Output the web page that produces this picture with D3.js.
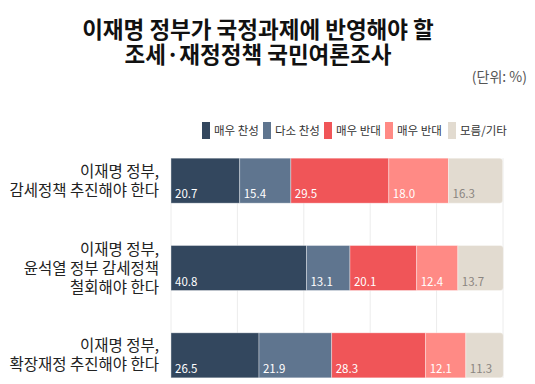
<!DOCTYPE html>
<html>
<head>
<meta charset="utf-8">
<script src="https://cdn.jsdelivr.net/npm/d3@7"></script>
<style>
  body { margin: 0; background: #fff; }
  svg { display: block; font-family: "Noto Sans CJK KR", "Noto Sans", sans-serif; }
</style>
</head>
<body>
<svg id="chart" width="535" height="384"></svg>
<script>
// data
const titleLines = ["이재명 정부가 국정과제에 반영해야 할", "조세·재정정책 국민여론조사"];
const unitLabel = "(단위: %)";
const categories = [
  ["이재명 정부,", "감세정책 추진해야 한다"],
  ["이재명 정부,", "윤석열 정부 감세정책", "철회해야 한다"],
  ["이재명 정부,", "확장재정 추진해야 한다"]
];
const seriesNames = ["매우 찬성", "다소 찬성", "매우 반대", "매우 반대", "모름/기타"];
const strongYes = [20.7, 40.8, 26.5];
const someYes = [15.4, 13.1, 21.9];
const strongNo = [29.5, 20.1, 28.3];
const someNo = [18.0, 12.4, 12.1];
const dunno = [16.3, 13.7, 11.3];
const xTicks = [0, 20, 40, 60, 80, 100];

const colors = ["#33475e", "#5f758f", "#f05558", "#ff8a85", "#e2dbd0"];
const labelColors = ["#fff", "#fff", "#fff", "#fff", "#8a8580"];

const seriesVals = [strongYes, someYes, strongNo, someNo, dunno];
const rows = categories.map((c, i) => {
  const r = { key: i };
  seriesVals.forEach((s, k) => r["s" + k] = s[i]);
  return r;
});
const keys = seriesNames.map((d, k) => "s" + k);

const svg = d3.select("#chart");

// title
svg.append("g").selectAll("text")
  .data(titleLines).enter().append("text")
    .attr("x", 258)
    .attr("y", (d, i) => 38 + i * 25)
    .attr("text-anchor", "middle")
    .attr("font-size", 22.5)
    .attr("font-weight", 700)
    .attr("fill", "#111")
    .text(d => d);

svg.append("text")
  .attr("x", 527).attr("y", 82)
  .attr("text-anchor", "end")
  .attr("font-size", 14)
  .attr("fill", "#555")
  .text(unitLabel);

// legend
const legendX = [202, 263, 324, 385, 448];
const legend = svg.selectAll(".legend")
  .data(seriesNames).enter().append("g")
    .attr("class", "legend")
    .attr("transform", (d, i) => "translate(" + legendX[i] + ",122)");
legend.append("rect")
  .attr("width", 8).attr("height", 17)
  .attr("fill", (d, i) => colors[i]);
legend.append("text")
  .attr("x", 12).attr("y", 13)
  .attr("font-size", 11.5)
  .attr("fill", "#333")
  .text(d => d);

// scales
const x = d3.scaleLinear().domain([0, 100]).range([171, 503]);
const y = d3.scaleBand().domain(d3.range(categories.length)).range([136, 398]).paddingInner(0.5).paddingOuter(0.25);
const barH = 45;
const barTop = i => y(i) + y.bandwidth() / 2 - barH / 2 + 1;

// grid
svg.append("g").selectAll("line")
  .data(xTicks).enter().append("line")
    .attr("x1", d => x(d)).attr("x2", d => x(d))
    .attr("y1", barTop(0)).attr("y2", barTop(2) + barH)
    .attr("stroke", "#ececec");

const stack = d3.stack().keys(keys)(rows);

stack.forEach((layer, k) => {
  const g = svg.append("g");
  layer.forEach((d, i) => {
    const x0 = x(d[0]), x1 = x(d[1]), t = barTop(i);
    if (k === keys.length - 1) {
      const r = 3;
      g.append("path")
        .attr("d", `M${x0},${t}H${x1 - r}Q${x1},${t} ${x1},${t + r}V${t + barH - r}Q${x1},${t + barH} ${x1 - r},${t + barH}H${x0}Z`)
        .attr("fill", colors[k])
        .attr("stroke", "rgba(255,255,255,0.45)").attr("stroke-width", 0.8);
    } else {
      g.append("rect")
        .attr("x", x0).attr("y", t)
        .attr("width", x1 - x0).attr("height", barH)
        .attr("fill", colors[k])
        .attr("stroke", "rgba(255,255,255,0.45)").attr("stroke-width", 0.8);
    }
    g.append("text")
      .attr("x", x0 + 4).attr("y", t + barH - 5)
      .attr("font-size", 11.5)
      .attr("fill", labelColors[k])
      .text(d3.format(".1f")(d[1] - d[0]));
  });
});

// category labels
categories.forEach((lines, i) => {
  const cy = barTop(i) + barH / 2;
  const lh = 19;
  svg.append("text")
    .attr("text-anchor", "end")
    .attr("font-size", 15.5)
    .attr("fill", "#222")
    .selectAll("tspan").data(lines).enter().append("tspan")
      .attr("x", 159)
      .attr("y", (d, j) => cy + (j - (lines.length - 1) / 2) * lh + 5.5)
      .text(d => d);
});
</script>
</body>
</html>
